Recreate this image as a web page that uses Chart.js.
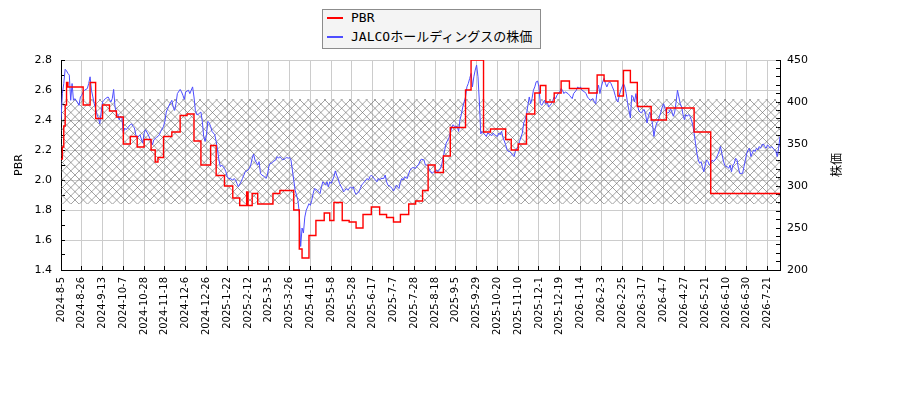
<!DOCTYPE html>
<html>
<head>
<meta charset="utf-8">
<script src="https://cdn.jsdelivr.net/npm/chart.js@4.4.1/dist/chart.umd.min.js"></script>
<style>
  body { margin: 0; background: #fff; }
  #wrap { position: relative; width: 900px; height: 400px; }
  #legend {
    position: absolute; left: 322px; top: 9px; width: 219px; height: 40px;
    box-sizing: border-box; border: 1px solid #8c8c8c; background: #f4f4f4;
    font: 13px "DejaVu Sans Mono", "Noto Sans CJK JP", monospace; color: #000;
  }
  .row { position: absolute; left: 0; height: 18px; line-height: 18px; white-space: nowrap; }
  .swatch { position: absolute; left: 4px; top: 8px; width: 16px; height: 2px; }
  .text { position: absolute; left: 28px; top: 0; }
</style>
</head>
<body>
<div id="wrap">
  <canvas id="chart" width="900" height="400"></canvas>
  <div id="legend"></div>
</div>
<script>
// tick labels, one every 15 trading days
const dateLabels = [
  '2024-8-5', '2024-8-26', '2024-9-13', '2024-10-7', '2024-10-28', '2024-11-18',
  '2024-12-6', '2024-12-26', '2025-1-22', '2025-2-12', '2025-3-5', '2025-3-26',
  '2025-4-15', '2025-5-8', '2025-5-28', '2025-6-17', '2025-7-7', '2025-7-28',
  '2025-8-18', '2025-9-5', '2025-9-29', '2025-10-20', '2025-11-10', '2025-12-1',
  '2025-12-19', '2026-1-14', '2026-2-3', '2026-2-25', '2026-3-17', '2026-4-7',
  '2026-4-27', '2026-5-21', '2026-6-10', '2026-6-30', '2026-7-21'
];
const labelEvery = 15;
const lastDay = 519;

// PBR: [trading day where the value starts, value]
const pbrSteps = [
  [0, 2.14], [1, 2.22], [2, 2.36], [3, 2.50], [4, 2.65], [5, 2.62], [16, 2.50], [21, 2.65],
  [25, 2.41], [30, 2.50], [35, 2.46], [40, 2.42], [45, 2.24], [50, 2.29], [55, 2.22], [60, 2.27],
  [65, 2.20], [68, 2.12], [70, 2.15], [74, 2.29], [80, 2.32], [86, 2.43], [91, 2.44], [96, 2.26],
  [101, 2.10], [108, 2.23], [112, 2.03], [118, 1.96], [124, 1.88], [129, 1.83], [134, 1.92], [135, 1.83],
  [138, 1.91], [142, 1.84], [153, 1.91], [158, 1.93], [168, 1.80], [172, 1.54], [174, 1.48], [179, 1.63],
  [184, 1.73], [190, 1.78], [194, 1.73], [197, 1.85], [203, 1.73], [208, 1.72], [213, 1.68], [218, 1.77],
  [224, 1.82], [230, 1.77], [235, 1.75], [240, 1.72], [245, 1.77], [251, 1.84], [256, 1.86], [261, 1.93],
  [265, 2.10], [270, 2.05], [276, 2.16], [281, 2.35], [292, 2.60], [296, 2.80], [305, 2.32], [310, 2.34],
  [321, 2.27], [325, 2.20], [330, 2.24], [336, 2.44], [342, 2.58], [346, 2.63], [350, 2.52], [356, 2.58],
  [361, 2.66], [367, 2.61], [381, 2.58], [387, 2.70], [392, 2.66], [402, 2.56], [406, 2.73], [411, 2.65],
  [416, 2.49], [426, 2.40], [437, 2.48], [457, 2.32], [469, 1.91], [519, 1.91]
];

// share price: [trading day, yen]
const priceSeries = [
  [0, 379], [1, 410], [2, 422], [3, 439], [4, 437], [5, 434], [6, 432], [7, 402], [8, 422], [9, 402],
  [10, 404], [11, 402], [13, 396], [14, 406], [15, 408], [16, 412], [17, 414], [19, 416], [20, 422], [21, 430],
  [22, 414], [23, 406], [24, 398], [25, 392], [26, 385], [27, 381], [28, 374], [29, 388], [30, 400], [31, 402],
  [32, 404], [34, 406], [35, 403], [36, 400], [37, 404], [38, 415], [39, 394], [40, 387], [41, 385], [42, 379],
  [43, 383], [44, 381], [45, 363], [46, 369], [47, 367], [48, 369], [50, 373], [51, 374], [52, 371], [53, 369],
  [54, 361], [55, 357], [57, 361], [58, 356], [59, 351], [60, 363], [61, 367], [63, 361], [64, 357], [65, 353],
  [66, 349], [67, 355], [69, 358], [70, 359], [71, 361], [72, 365], [74, 371], [75, 377], [76, 388], [77, 392],
  [78, 396], [80, 402], [81, 394], [82, 390], [83, 398], [84, 410], [86, 415], [87, 412], [88, 408], [89, 403],
  [90, 412], [92, 414], [93, 410], [94, 414], [95, 418], [96, 406], [97, 390], [98, 385], [99, 385], [100, 387],
  [101, 388], [102, 377], [103, 359], [104, 353], [105, 361], [106, 377], [107, 375], [108, 371], [109, 365], [111, 361],
  [112, 353], [113, 343], [114, 331], [115, 323], [116, 325], [118, 321], [119, 317], [120, 311], [121, 309], [122, 309],
  [124, 307], [125, 309], [126, 307], [127, 303], [128, 299], [130, 305], [131, 309], [132, 313], [133, 317], [135, 319],
  [136, 321], [137, 325], [138, 333], [139, 338], [140, 331], [142, 325], [143, 329], [144, 315], [145, 313], [147, 311],
  [148, 309], [149, 313], [150, 323], [151, 327], [152, 327], [153, 329], [155, 331], [156, 335], [157, 333], [158, 335],
  [159, 333], [160, 331], [162, 333], [163, 334], [164, 333], [165, 334], [166, 331], [167, 319], [168, 307], [169, 295],
  [171, 283], [172, 268], [173, 228], [174, 250], [175, 244], [176, 263], [177, 271], [179, 279], [180, 277], [181, 283],
  [182, 291], [183, 297], [185, 295], [186, 293], [187, 291], [188, 299], [189, 305], [191, 301], [192, 305], [193, 299],
  [194, 305], [195, 303], [197, 311], [198, 318], [199, 313], [200, 309], [201, 303], [203, 297], [204, 293], [205, 295],
  [206, 297], [207, 295], [209, 299], [210, 297], [211, 299], [212, 293], [213, 290], [215, 293], [216, 297], [217, 301],
  [218, 303], [219, 305], [221, 309], [222, 307], [223, 311], [224, 313], [225, 311], [227, 307], [228, 305], [229, 309],
  [230, 307], [231, 309], [233, 309], [234, 313], [235, 305], [236, 301], [238, 299], [239, 297], [240, 294], [241, 297],
  [242, 301], [244, 297], [245, 305], [246, 309], [247, 307], [248, 311], [250, 309], [251, 315], [252, 319], [253, 321],
  [254, 322], [256, 321], [257, 324], [258, 325], [259, 329], [260, 332], [262, 331], [263, 325], [264, 325], [265, 324],
  [266, 319], [268, 315], [269, 317], [270, 317], [271, 319], [272, 317], [274, 321], [275, 327], [276, 335], [277, 343],
  [278, 351], [280, 357], [281, 363], [282, 369], [283, 373], [284, 371], [286, 371], [287, 365], [288, 379], [289, 385],
  [290, 394], [292, 406], [293, 418], [294, 422], [295, 428], [296, 434], [297, 418], [298, 430], [299, 438], [300, 444],
  [301, 430], [302, 400], [303, 362], [304, 365], [305, 363], [306, 361], [307, 359], [308, 363], [310, 361], [311, 360],
  [312, 363], [313, 361], [315, 359], [316, 363], [317, 361], [318, 365], [319, 358], [321, 349], [322, 343], [323, 341],
  [324, 341], [325, 339], [327, 335], [328, 341], [329, 345], [330, 347], [331, 353], [333, 363], [334, 375], [335, 379],
  [336, 385], [337, 396], [338, 406], [339, 398], [340, 404], [341, 414], [342, 418], [343, 424], [344, 425], [345, 418],
  [346, 398], [347, 396], [349, 402], [350, 398], [351, 400], [352, 394], [354, 398], [355, 402], [356, 406], [357, 404],
  [358, 408], [360, 412], [361, 416], [362, 414], [363, 410], [364, 412], [366, 410], [367, 408], [368, 406], [369, 404],
  [370, 410], [372, 414], [373, 418], [374, 416], [375, 418], [376, 414], [378, 412], [379, 410], [380, 406], [381, 404],
  [382, 402], [384, 404], [385, 400], [386, 398], [387, 414], [388, 420], [389, 410], [390, 418], [391, 424], [392, 428],
  [393, 422], [394, 418], [395, 422], [396, 424], [397, 422], [398, 418], [399, 414], [400, 408], [401, 402], [402, 400],
  [403, 408], [404, 414], [405, 418], [406, 422], [407, 418], [408, 410], [409, 398], [410, 390], [411, 381], [412, 408],
  [413, 406], [414, 400], [415, 410], [416, 398], [417, 390], [418, 388], [419, 387], [420, 390], [421, 391], [422, 385],
  [423, 375], [424, 383], [425, 388], [426, 383], [427, 373], [428, 359], [429, 369], [430, 375], [431, 377], [432, 383],
  [433, 388], [434, 394], [435, 398], [436, 392], [437, 388], [438, 387], [439, 388], [440, 392], [441, 388], [442, 383],
  [443, 388], [444, 400], [445, 414], [446, 406], [447, 398], [448, 394], [449, 385], [450, 379], [451, 385], [452, 383],
  [453, 385], [454, 383], [455, 379], [456, 373], [457, 363], [458, 351], [459, 339], [460, 331], [461, 327], [462, 329],
  [463, 323], [464, 317], [465, 325], [466, 331], [467, 329], [468, 325], [469, 327], [470, 331], [471, 329], [472, 331],
  [473, 333], [474, 337], [475, 341], [476, 347], [477, 339], [478, 331], [479, 325], [480, 323], [481, 323], [482, 321],
  [483, 325], [484, 317], [485, 325], [486, 327], [487, 333], [488, 331], [489, 321], [490, 315], [491, 315], [492, 315],
  [493, 323], [494, 331], [495, 339], [496, 343], [497, 345], [498, 335], [499, 339], [500, 343], [501, 341], [502, 345],
  [503, 343], [504, 347], [505, 345], [506, 349], [507, 350], [508, 347], [509, 345], [510, 349], [511, 347], [512, 345],
  [513, 347], [514, 345], [515, 343], [516, 341], [517, 335], [518, 345], [519, 359]
];

// hatched band on the PBR axis
const bandRange = [1.84, 2.54];

const seriesNames = ['PBR', 'JALCOホールディングスの株価'];
const seriesColors = ['#ff0000', '#4d4dff'];

function toPoints(pairs) {
  return pairs.map(([d, v]) => ({ x: d, y: v }));
}

function makeHatch() {
  const size = 25;
  const c = document.createElement('canvas');
  c.width = size;
  c.height = size;
  const g = c.getContext('2d');
  g.strokeStyle = 'rgba(100,100,100,0.75)';
  g.lineWidth = 0.8;
  const gap = size / 3;
  g.beginPath();
  for (let k = -3; k <= 3; k++) {
    const o = k * gap;
    g.moveTo(o, 0);
    g.lineTo(o + size, size);
    g.moveTo(o, size);
    g.lineTo(o + size, 0);
  }
  g.stroke();
  return g.createPattern(c, 'repeat');
}

// right axis title, reading bottom to top
const rightTitle = {
  id: 'rightTitle',
  afterDraw(chart) {
    const s = chart.scales.y1;
    const c = chart.ctx;
    c.save();
    c.translate(s.left + 56, (s.top + s.bottom) / 2);
    c.rotate(-Math.PI / 2);
    c.font = '12px "Noto Sans CJK JP"';
    c.fillStyle = '#000';
    c.textAlign = 'center';
    c.textBaseline = 'middle';
    c.fillText('株価', 0, 0);
    c.restore();
  }
};

const isMajor = (v) => Math.round(v * 10) % 2 === 0;

const ctx = document.getElementById('chart').getContext('2d');
new Chart(ctx, {
  type: 'line',
  data: {
    datasets: [
      {
        label: seriesNames[0],
        data: toPoints(pbrSteps),
        yAxisID: 'y',
        borderColor: seriesColors[0],
        borderWidth: 1.4,
        stepped: true,
        pointRadius: 0,
        order: 1,
      },
      {
        label: seriesNames[1],
        data: toPoints(priceSeries),
        yAxisID: 'y1',
        borderColor: seriesColors[1],
        borderWidth: 1,
        pointRadius: 0,
        tension: 0,
        order: 2,
      },
      {
        data: [{ x: 0, y: bandRange[1] }, { x: lastDay, y: bandRange[1] }],
        yAxisID: 'y',
        borderColor: 'transparent',
        pointRadius: 0,
        fill: '+1',
        backgroundColor: makeHatch(),
        order: 3,
      },
      {
        data: [{ x: 0, y: bandRange[0] }, { x: lastDay, y: bandRange[0] }],
        yAxisID: 'y',
        borderColor: 'transparent',
        pointRadius: 0,
        fill: false,
        order: 3,
      },
    ],
  },
  options: {
    responsive: false,
    animation: false,
    layout: { padding: { top: 60, left: 0, right: 0, bottom: 0 } },
    plugins: {
      legend: { display: false },
      tooltip: { enabled: false },
    },
    scales: {
      x: {
        type: 'linear',
        min: 0,
        max: lastDay,
        ticks: {
          stepSize: labelEvery,
          includeBounds: false,
          autoSkip: false,
          minRotation: 90,
          maxRotation: 90,
          padding: 11,
          color: '#000',
          font: { family: 'DejaVu Sans', size: 10 },
          callback: (v) => dateLabels[Math.round(v / labelEvery)] || '',
        },
        grid: { color: '#cccccc', tickColor: '#000', tickLength: -4 },
        border: { color: '#000' },
        afterFit: (s) => { s.height = 130; },
      },
      y: {
        position: 'left',
        min: 1.4,
        max: 2.8,
        ticks: {
          stepSize: 0.1,
          autoSkip: false,
          padding: 13,
          color: '#000',
          font: { family: 'DejaVu Sans', size: 11 },
          callback: (v) => (isMajor(v) ? v.toFixed(1) : ''),
        },
        grid: {
          color: (c) => (c.tick && isMajor(c.tick.value) ? '#cccccc' : 'transparent'),
          tickColor: '#000',
          tickLength: -4,
        },
        border: { color: '#000' },
        title: {
          display: true,
          text: 'PBR',
          color: '#000',
          font: { family: 'DejaVu Sans', size: 11 },
          padding: { top: 13, bottom: 0 },
        },
        afterFit: (s) => { s.width = 61; },
      },
      y1: {
        position: 'right',
        min: 200,
        max: 450,
        ticks: {
          stepSize: 10,
          autoSkip: false,
          padding: 11,
          color: '#000',
          font: { family: 'DejaVu Sans', size: 11 },
          callback: (v) => (v % 50 === 0 ? v : ''),
        },
        grid: { drawOnChartArea: false, tickColor: '#000', tickLength: -4 },
        border: { color: '#000' },
        afterFit: (s) => { s.width = 120; },
      },
    },
  },
  plugins: [rightTitle],
});

// legend box
const legend = document.getElementById('legend');
seriesNames.forEach((name, k) => {
  const row = document.createElement('div');
  row.className = 'row';
  row.style.top = (k * 19 - 1) + 'px';
  row.innerHTML = '<span class="swatch"></span><span class="text"></span>';
  row.querySelector('.swatch').style.background = seriesColors[k];
  row.querySelector('.text').textContent = name;
  legend.appendChild(row);
});
</script>
</body>
</html>
